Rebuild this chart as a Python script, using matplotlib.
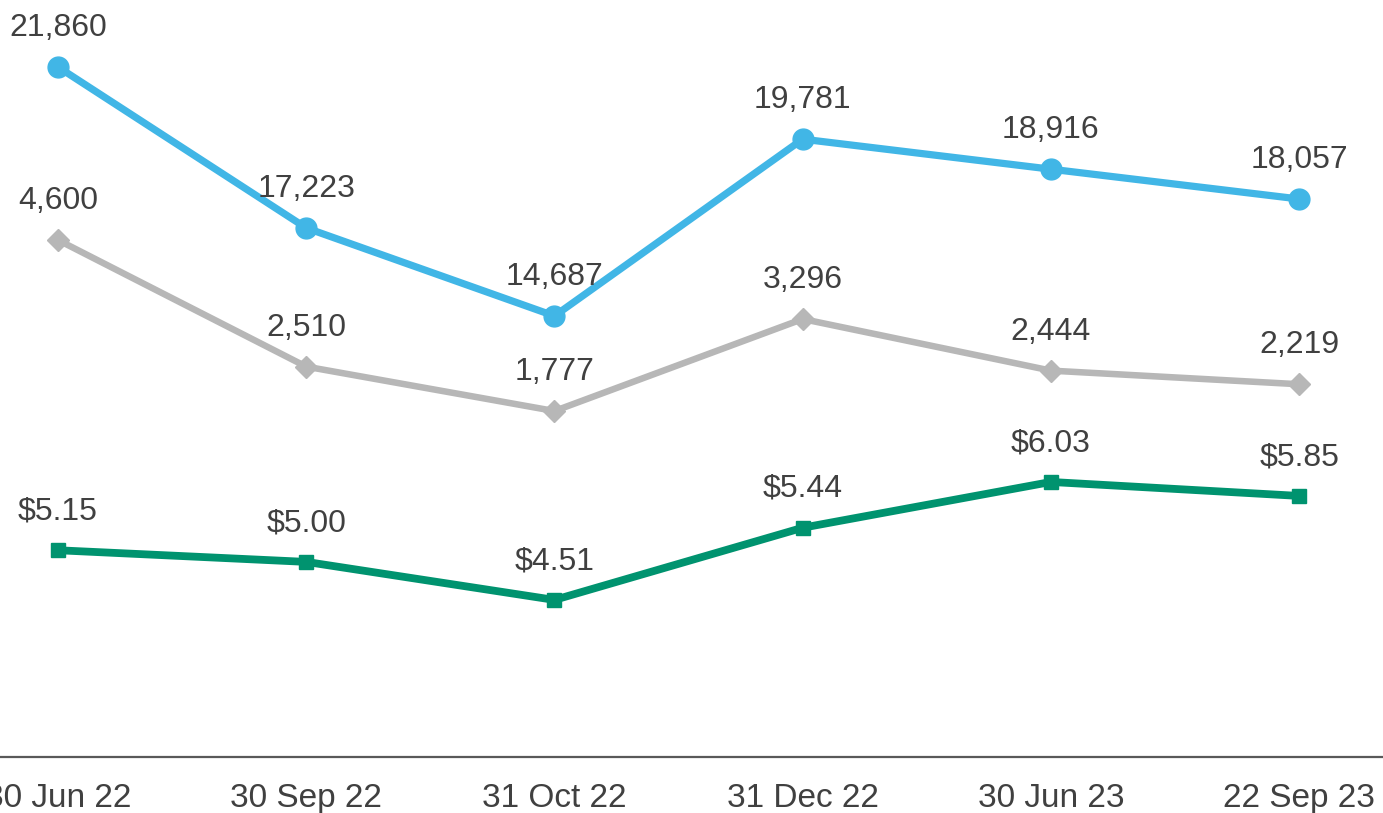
import numpy as np
import matplotlib.pyplot as plt

plt.rcParams['font.family'] = ['Liberation Sans', 'DejaVu Sans']

dates = ['30 Jun 22', '30 Sep 22', '31 Oct 22', '31 Dec 22', '30 Jun 23', '22 Sep 23']
blue_vals = [21860, 17223, 14687, 19781, 18916, 18057]
grey_vals = [4600, 2510, 1777, 3296, 2444, 2219]
green_vals = [5.15, 5.00, 4.51, 5.44, 6.03, 5.85]

BLUE = '#41B6E6'
GREY = '#B7B7B7'
GREEN = '#00936F'
TXT = '#404040'

fig = plt.figure(figsize=(13.83, 8.13), dpi=100)
ax = fig.add_axes([0, 56 / 813, 1, 757 / 813])
ax2 = ax.twinx()
ax3 = ax.twinx()

x = np.arange(len(dates))

ax.plot(x, blue_vals, color=BLUE, lw=5.2, marker='o', ms=15, zorder=3)
ax2.plot(x, grey_vals, color=GREY, lw=4.7, marker='D', ms=11, zorder=3)
ax3.plot(x, green_vals, color=GREEN, lw=5.6, marker='s', ms=10, zorder=3)

for a, vals, fmt in [(ax, blue_vals, '{:,}'), (ax2, grey_vals, '{:,}'), (ax3, green_vals, '${:.2f}')]:
    for xi, v in zip(x, vals):
        a.annotate(fmt.format(v), (xi, v), xytext=(0, 28), textcoords='offset points',
                   ha='center', va='center', fontsize=23, color=TXT)

ax.set_ylim(1981, 23790)
ax2.set_ylim(-3934, 8562)
ax3.set_ylim(2.486, 12.24)
ax.set_xlim(-0.2337, 5.338)

for a in (ax, ax2, ax3):
    for s in a.spines.values():
        s.set_visible(False)
    a.set_yticks([])
ax.spines['bottom'].set_visible(True)
ax.spines['bottom'].set_color('#595959')
ax.spines['bottom'].set_linewidth(1.6)

ax.set_xticks(x)
ax.set_xticklabels(dates, fontsize=24, color=TXT)
ax.tick_params(axis='x', length=0, pad=19)

fig.savefig('out.png', dpi=100)
